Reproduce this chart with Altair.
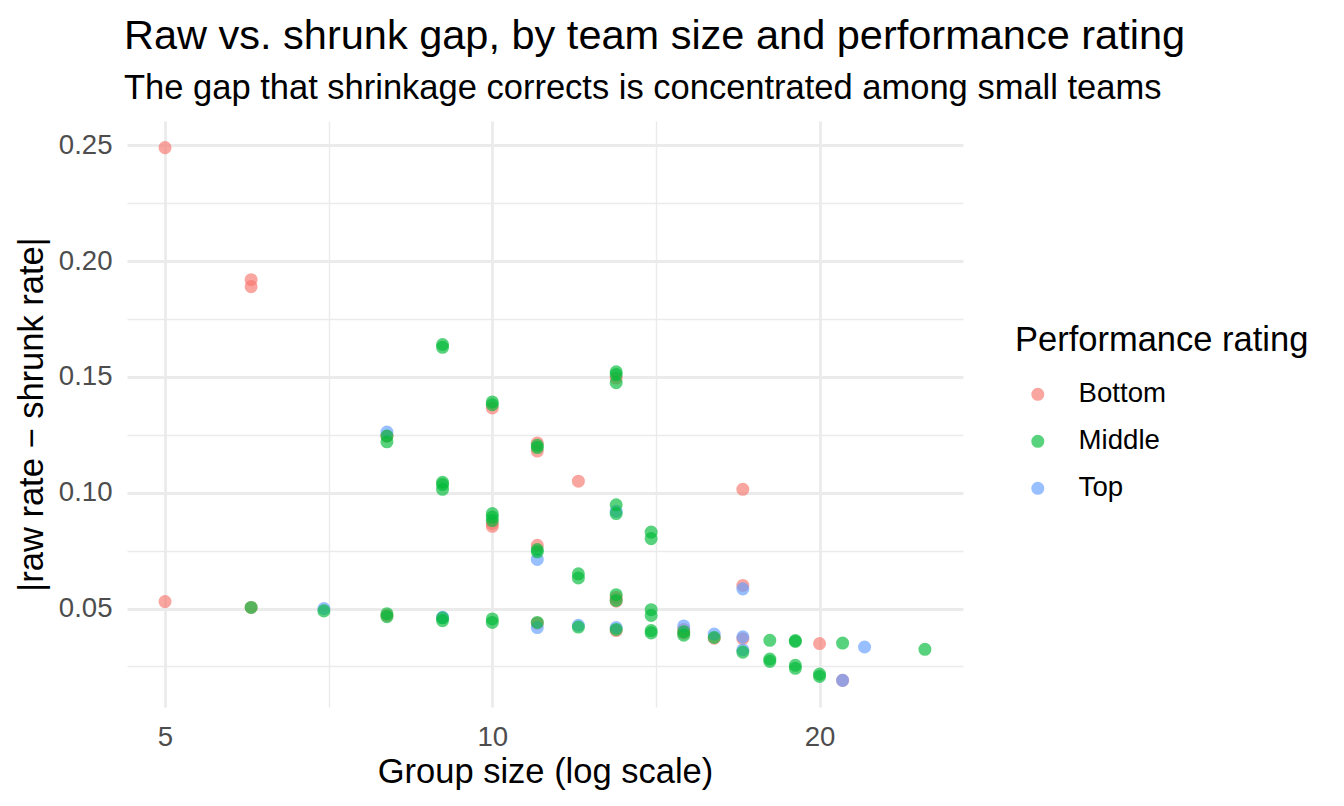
import altair as alt
import pandas as pd

# ---- data ----
bottom_size = [5, 5, 6, 6, 6, 8, 8, 10, 10, 10, 11, 11, 11, 11, 12, 13, 13, 13, 13,
               15, 15, 16, 17, 17, 17, 20, 21]
bottom_gap = [0.249, 0.053, 0.192, 0.189, 0.0505, 0.1244, 0.0470, 0.1366, 0.0867, 0.0855,
              0.1215, 0.1180, 0.0773, 0.0437, 0.1050, 0.1495, 0.0548, 0.0532, 0.0405,
              0.0410, 0.0395, 0.0372, 0.1015, 0.0600, 0.0370, 0.0349, 0.0190]

top_size = [7, 8, 9, 11, 11, 12, 13, 13, 15, 16, 17, 17, 17, 21, 22]
top_gap = [0.0500, 0.1262, 0.0462, 0.0712, 0.0418, 0.0428, 0.0920, 0.0418, 0.0425,
           0.0390, 0.0585, 0.0378, 0.0322, 0.0190, 0.0334]

middle_size = [6, 7, 8, 8, 8, 8, 9, 9, 9, 9, 9, 9, 9, 10, 10, 10, 10, 10, 10, 10,
               11, 11, 11, 11, 11, 12, 12, 12, 13, 13, 13, 13, 13, 13, 13, 13,
               14, 14, 14, 14, 14, 14, 15, 15, 16, 17, 18, 18, 18, 19, 19, 19, 19,
               20, 20, 21, 25]
middle_gap = [0.0505, 0.0490, 0.1245, 0.1220, 0.0478, 0.0465, 0.1640, 0.1628, 0.1045,
              0.1035, 0.1015, 0.0460, 0.0448, 0.1392, 0.1380, 0.0910, 0.0895, 0.0880,
              0.0455, 0.0440, 0.1205, 0.1195, 0.0755, 0.0745, 0.0440, 0.0650, 0.0632,
              0.0420, 0.1522, 0.1510, 0.1475, 0.0948, 0.0910, 0.0560, 0.0535, 0.0410,
              0.0830, 0.0802, 0.0495, 0.0470, 0.0405, 0.0395, 0.0400, 0.0385, 0.0375,
              0.0312, 0.0363, 0.0282, 0.0272, 0.0362, 0.0358, 0.0255, 0.0242, 0.0217,
              0.0207, 0.0351, 0.0324]

ratings = ["Bottom", "Middle", "Top"]
colors = ["#F8766D", "#00BA38", "#619CFF"]

x_major = [5, 10, 20]
x_minor = [7.0710678, 14.1421356]
y_major = [0.05, 0.10, 0.15, 0.20, 0.25]
y_minor = [0.025, 0.075, 0.125, 0.175, 0.225]

df = pd.concat([
    pd.DataFrame({"size": bottom_size, "gap": bottom_gap, "rating": "Bottom"}),
    pd.DataFrame({"size": top_size, "gap": top_gap, "rating": "Top"}),
    pd.DataFrame({"size": middle_size, "gap": middle_gap, "rating": "Middle"}),
], ignore_index=True)

FONT = "Liberation Sans"

x_test = "indexof([5,10,20], datum.value) >= 0"
y_test = "indexof([0.05,0.1,0.15,0.2,0.25], datum.value) >= 0"

chart = alt.Chart(df).mark_circle(size=170, opacity=0.65).encode(
    x=alt.X("size:Q",
            scale=alt.Scale(type="log", domain=[4.613, 27.10], nice=False, zero=False),
            axis=alt.Axis(values=sorted(x_major + x_minor),
                          labelExpr="indexof([5,10,20], datum.value) >= 0 ? datum.label : ''",
                          format="d",
                          gridWidth={"condition": {"test": x_test, "value": 2.8}, "value": 1.4},
                          labelPadding=16, titlePadding=5),
            title="Group size (log scale)"),
    y=alt.Y("gap:Q",
            scale=alt.Scale(domain=[0.0075, 0.2605], nice=False, zero=False),
            axis=alt.Axis(values=sorted(y_major + y_minor),
                          labelExpr="indexof([0.05,0.1,0.15,0.2,0.25], datum.value) >= 0 ? datum.label : ''",
                          format=".2f",
                          gridWidth={"condition": {"test": y_test, "value": 2.8}, "value": 1.4},
                          labelPadding=15, titlePadding=9),
            title="|raw rate − shrunk rate|"),
    color=alt.Color("rating:N",
                    scale=alt.Scale(domain=ratings, range=colors),
                    legend=alt.Legend(title="Performance rating", orient="none",
                                      legendX=888, legendY=203,
                                      symbolType="circle", symbolSize=170,
                                      symbolOpacity=0.65, symbolOffset=9,
                                      labelOffset=27, rowPadding=18,
                                      titlePadding=22, padding=0,
                                      titleLimit=500, labelLimit=300)),
).properties(
    width=836,
    height=586,
    title=alt.TitleParams(
        text="Raw vs. shrunk gap, by team size and performance rating",
        subtitle="The gap that shrinkage corrects is concentrated among small teams",
        anchor="start", frame="group", offset=16,
        fontSize=41.5, subtitleFontSize=34.5, font=FONT, subtitleFont=FONT,
        fontWeight="normal", color="black", subtitleColor="black",
        subtitlePadding=14, dx=-3,
    ),
    autosize=alt.AutoSizeParams(type="none"),
    padding={"left": 119, "top": 113, "right": 373, "bottom": 91},
).configure_view(
    stroke=None
).configure_axis(
    domain=False, ticks=False, tickSize=0,
    gridColor="#EBEBEB",
    labelFont=FONT, labelFontSize=27.6, labelColor="#4D4D4D",
    titleFont=FONT, titleFontSize=34.5, titleColor="black", titleFontWeight="normal",
).configure_legend(
    titleFont=FONT, titleFontSize=34.5, titleColor="black", titleFontWeight="normal",
    labelFont=FONT, labelFontSize=27.6, labelColor="black",
)

chart.save("out.html", embed_options={"renderer": "svg", "actions": False})
